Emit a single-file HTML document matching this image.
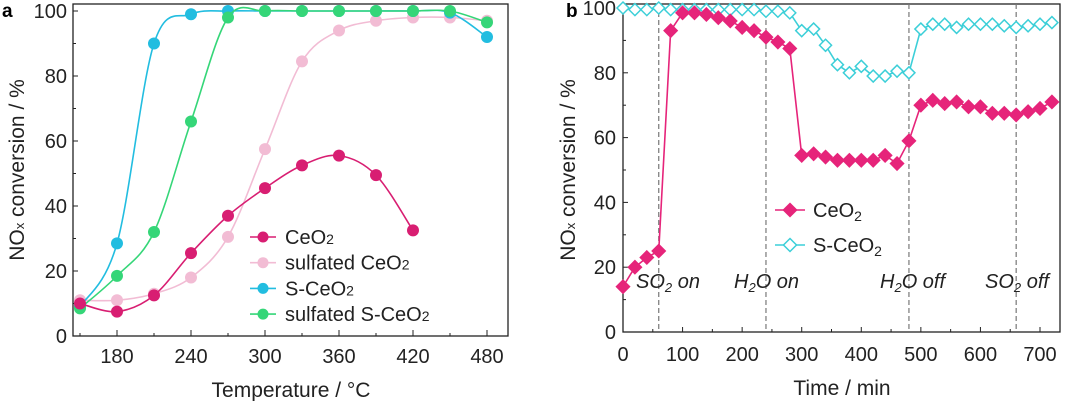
<!DOCTYPE html>
<html><head><meta charset="utf-8"><style>
body{margin:0;background:#fff;width:1069px;height:401px;overflow:hidden}
svg{font-family:"Liberation Sans",sans-serif}
</style></head><body>
<svg id="c" width="1069" height="401" viewBox="0 0 1069 401" xmlns="http://www.w3.org/2000/svg"></svg>
<script>
// Panel a data
const tempsA = [150,180,210,240,270,300,330,360,390,420,450,480];
const ceo2A = [10,7.5,12.5,25.5,37,45.5,52.5,55.5,49.5,32.5];
const sulfCeo2A = [11,11,13,18,30.5,57.5,84.5,94,97,98,98,97];
const sCeo2A = [9,28.5,90,99,100,100,100,100,100,100,99.5,92];
const sulfSCeo2A = [8.5,18.5,32,66,98,100,100,100,100,100,100,96.5];
const xTicksA = [180,240,300,360,420,480];
const yTicks = [0,20,40,60,80,100];
// Panel b data
const timesB = [0,20,40,60,80,100,120,140,160,180,200,220,240,260,280,300,320,340,360,380,400,420,440,460,480,500,520,540,560,580,600,620,640,660,680,700,720];
const ceo2B = [14,20,23,25,93,98.5,98.5,98,97,96,94,93,91,89.5,87.5,54.5,55,54,53,53,53,53,54.5,52,59,70,71.5,70.5,71,69.5,69.5,67.5,67.5,67,68,69,71];
const sCeo2B = [100,99.5,99.5,100,99.5,99.5,99.5,99.5,99.5,99.5,99.5,99.5,99,99,98.5,93,93.5,88.5,82.5,80,82,79,79,80.5,80,93.5,95,95,94,95,95,95,94.5,94,94.5,95,95.5];
const xTicksB = [0,100,200,300,400,500,600,700];
const eventTimes = [60,240,480,660];

const svg=document.getElementById('c');
const NS='http://www.w3.org/2000/svg';
function el(t,a,p){const e=document.createElementNS(NS,t);for(const k in a)e.setAttribute(k,a[k]);(p||svg).appendChild(e);return e;}

const xa=t=>117+(t-180)*370/300, ya=v=>336-v*3.25;
const xb=t=>623+t*417/700, yb=v=>332-v*3.24;

function smooth(pts){let d='M'+pts[0][0]+','+pts[0][1];for(let i=0;i<pts.length-1;i++){const p0=pts[i-1]||pts[i],p1=pts[i],p2=pts[i+1],p3=pts[i+2]||p2;
const c1=[p1[0]+(p2[0]-p0[0])/6,p1[1]+(p2[1]-p0[1])/6],c2=[p2[0]-(p3[0]-p1[0])/6,p2[1]-(p3[1]-p1[1])/6];d+=`C${c1},${c2},${p2}`;}return d;}

// Panel a
let g=el('g',{});
let t=el('text',{x:2,y:17,'font-size':19,'font-weight':'bold'},g);t.textContent='a';

let r=el('rect',{x:73,y:4,width:435,height:332,fill:'none',stroke:'#222','stroke-width':1.3},g);

yTicks.forEach(v=>{el('line',{x1:73,x2:78,y1:ya(v),y2:ya(v),stroke:'#222'},g);
 if(v<100)el('line',{x1:73,x2:76,y1:ya(v+10),y2:ya(v+10),stroke:'#222'},g);
 const tt=el('text',{x:67,y:ya(v)+7,'font-size':20,'text-anchor':'end',fill:'#222'},g);tt.textContent=v;
 });
for(let v=150;v<=480;v+=30){el('line',{x1:xa(v),x2:xa(v),y1:336,y2:xTicksA.includes(v)?330:333,stroke:'#222'},g);}
xTicksA.forEach(v=>{const tt=el('text',{x:xa(v),y:363,'font-size':20,'text-anchor':'middle',fill:'#222'},g);tt.textContent=v;
 });
t=el('text',{x:291,y:397,'font-size':21,'text-anchor':'middle',fill:'#222'},g);t.textContent='Temperature / °C';

t=el('text',{transform:'translate(24,170) rotate(-90)','font-size':21,'text-anchor':'middle',fill:'#222'},g);t.innerHTML='NO<tspan font-size="13">x</tspan> conversion / %';


const seriesA=[[sulfCeo2A,'#f2bcd4','sulfated-ceo2'],[sCeo2A,'#22bde0','s-ceo2'],[sulfSCeo2A,'#35d678','sulfated-s-ceo2'],[ceo2A,'#d81e72','ceo2']];
seriesA.forEach(([vals,col,nm])=>{const pts=vals.map((v,i)=>[xa(tempsA[i]),ya(v)]);
 const p=el('path',{d:smooth(pts),fill:'none',stroke:col,'stroke-width':1.6},g);
 
 pts.forEach(q=>{const c=el('circle',{cx:q[0],cy:q[1],r:6,fill:col},g);
 });});
[['CeO','2','#d81e72'],['sulfated CeO','2','#f2bcd4'],['S-CeO','2','#22bde0'],['sulfated S-CeO','2','#35d678']].forEach((L,i)=>{
 const y=237+i*25.7;const lg=el('g',{},g);
 el('line',{x1:250,x2:276,y1:y,y2:y,stroke:L[2],'stroke-width':1.6},lg);el('circle',{cx:263,cy:y,r:5.5,fill:L[2]},lg);
 const tt=el('text',{x:285,y:y+7,'font-size':20,fill:'#222'},lg);tt.innerHTML=L[0]+'<tspan font-size="14">'+L[1]+'</tspan>';});

// Panel b
g=el('g',{});
t=el('text',{x:566,y:17,'font-size':19,'font-weight':'bold'},g);t.textContent='b';

r=el('rect',{x:623,y:4,width:437,height:328,fill:'none',stroke:'#222','stroke-width':1.3},g);

yTicks.forEach(v=>{el('line',{x1:623,x2:628,y1:yb(v),y2:yb(v),stroke:'#222'},g);
 if(v<100)el('line',{x1:623,x2:626,y1:yb(v+10),y2:yb(v+10),stroke:'#222'},g);
 const tt=el('text',{x:616,y:yb(v)+7,'font-size':20,'text-anchor':'end',fill:'#222'},g);tt.textContent=v;
 });
for(let v=0;v<=700;v+=50)el('line',{x1:xb(v),x2:xb(v),y1:332,y2:v%100?329:327,stroke:'#222'},g);
xTicksB.forEach(v=>{const tt=el('text',{x:xb(v),y:361,'font-size':20,'text-anchor':'middle',fill:'#222'},g);tt.textContent=v;
 });
t=el('text',{x:842,y:395,'font-size':21,'text-anchor':'middle',fill:'#222'},g);t.textContent='Time / min';

t=el('text',{transform:'translate(575,170) rotate(-90)','font-size':21,'text-anchor':'middle',fill:'#222'},g);t.innerHTML='NO<tspan font-size="13">x</tspan> conversion / %';

eventTimes.forEach(v=>{const l=el('line',{x1:xb(v),x2:xb(v),y1:4,y2:332,stroke:'#777','stroke-dasharray':'5,3','stroke-width':1.2},g);
 });
[['SO','2',' on',636],['H','2','O on',734],['H','2','O off',880],['SO','2',' off',985]].forEach(a=>{
 const tt=el('text',{x:a[3],y:288,'font-size':20,'font-style':'italic',fill:'#222'},g);
 tt.innerHTML=a[0]+'<tspan font-size="13" dy="4">'+a[1]+'</tspan><tspan dy="-4">'+a[2]+'</tspan>';
 });
function dia(x,y,s){return `M${x},${y-s}L${x+s},${y}L${x},${y+s}L${x-s},${y}Z`;}
[[sCeo2B,'#3ccfd8',false,'s-ceo2'],[ceo2B,'#e6247a',true,'ceo2']].forEach(([vals,col,fill,nm])=>{
 const pts=vals.map((v,i)=>[xb(timesB[i]),yb(v)]);
 const p=el('path',{d:'M'+pts.join('L'),fill:'none',stroke:col,'stroke-width':1.6},g);
 
 pts.forEach(q=>{const m=el('path',{d:dia(q[0],q[1],fill?6.5:6),fill:fill?col:'#fff',stroke:col,'stroke-width':1.5},g);
 });});
[['CeO','2','#e6247a',true,210],['S-CeO','2','#3ccfd8',false,245]].forEach(L=>{
 const lg=el('g',{},g);
 el('line',{x1:775,x2:805,y1:L[4],y2:L[4],stroke:L[2],'stroke-width':1.6},lg);
 el('path',{d:dia(790,L[4],6.5),fill:L[3]?L[2]:'#fff',stroke:L[2],'stroke-width':1.5},lg);
 const tt=el('text',{x:813,y:L[4]+7,'font-size':20,fill:'#222'},lg);tt.innerHTML=L[0]+'<tspan font-size="14" dy="4">'+L[1]+'</tspan>';});
</script>
</body></html>
